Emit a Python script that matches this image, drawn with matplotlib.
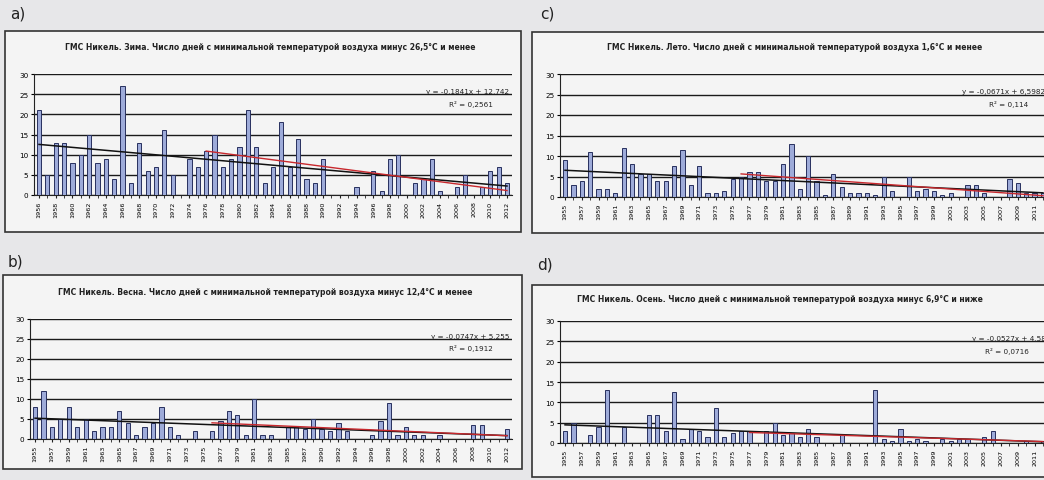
import numpy as np
import matplotlib
matplotlib.use("Agg")
import matplotlib.pyplot as plt
from matplotlib.patches import Rectangle

# Winter (a), 1956-2012
years_a = list(range(1956, 2013))
days_a = [21, 5, 13, 13, 8, 10, 15, 8, 9, 4, 27, 3, 13, 6, 7, 16, 5, 0, 9, 7,
          11, 15, 7, 9, 12, 21, 12, 3, 7, 18, 7, 14, 4, 3, 9, 0, 0, 0, 2, 0,
          6, 1, 9, 10, 0, 3, 4, 9, 1, 0, 2, 5, 0, 2, 6, 7, 3]

# Spring (b), 1955-2012 without 1989
years_b = [y for y in range(1955, 2013) if y != 1989]
days_b = [8, 12, 3, 5, 8, 3, 5, 2, 3, 3, 7, 4, 1, 3, 4, 8, 3, 1, 0, 2,
          0, 2, 4.5, 7, 6, 1, 10, 1, 1, 0, 3, 3, 2.5, 5, 2.5, 2, 4, 2, 0, 0,
          1, 4.5, 9, 1, 3, 1, 1, 0, 1, 0, 0, 0, 3.5, 3.5, 0, 0, 2.5]

# Summer (c), 1955-2012
years_c = list(range(1955, 2013))
days_c = [9, 3, 4, 11, 2, 2, 1, 12, 8, 5.5, 5.5, 4, 4, 7.5, 11.5, 3, 7.5, 1, 1, 1.5,
          4.5, 5, 6, 6, 4, 4, 8, 13, 2, 10, 4, 0.5, 5.5, 2.5, 1, 1, 1, 0.5, 5, 1.5,
          0, 5, 1.5, 2, 1.5, 0.5, 1, 0, 3, 3, 1, 0, 0, 4.5, 3.5, 1, 1, 1]

# Autumn (d), 1955-2012
years_d = list(range(1955, 2013))
days_d = [3, 5, 0, 2, 4, 13, 0, 4, 0, 0, 7, 7, 3, 12.5, 1, 3.5, 3, 1.5, 8.5, 1.5,
          2.5, 3, 3, 0, 3, 5, 2, 2.5, 1.5, 3.5, 1.5, 0, 0, 2, 0, 0, 0, 13, 1, 0.5,
          3.5, 0.5, 1, 0.5, 0, 1, 0.5, 1, 1, 0, 1.5, 3, 0, 0, 0, 0.5, 0, 0.5]

titles = {
    "a": "ГМС Никель. Зима. Число дней с минимальной температурой воздуха минус 26,5°С и менее",
    "b": "ГМС Никель. Весна. Число дней с минимальной температурой воздуха минус 12,4°С и менее",
    "c": "ГМС Никель. Лето. Число дней с минимальной температурой воздуха 1,6°С и менее",
    "d": "ГМС Никель. Осень. Число дней с минимальной температурой воздуха минус 6,9°С и ниже",
}
equations = {
    "a": ("y = -0,1841x + 12,742", "R² = 0,2561"),
    "b": ("y = -0,0747x + 5,255", "R² = 0,1912"),
    "c": ("y = -0,0671x + 6,5982", "R² = 0,114"),
    "d": ("y = -0,0527x + 4,58", "R² = 0,0716"),
}
red_start = {"a": 1976, "b": 1976, "c": 1976, "d": 1977}

BAR_FACE = "#9eabd9"
BAR_EDGE = "#27305e"
PAPER = "#e7e7e9"
PANEL = "#f4f4f4"

fig = plt.figure(figsize=(10.44, 4.81), dpi=100, facecolor=PAPER)


def px(x0, y0, x1, y1):
    # pixel box (top-left origin) -> figure fraction rect
    return [x0 / 1044, 1 - y1 / 481, (x1 - x0) / 1044, (y1 - y0) / 481]


def draw_panel(key, years, days, frame, plot_box, title_x, title_y, label_pos):
    fx0, fy0, fx1, fy1 = frame
    fig.add_artist(Rectangle((fx0 / 1044, 1 - fy1 / 481),
                             (fx1 - fx0) / 1044, (fy1 - fy0) / 481,
                             transform=fig.transFigure, facecolor=PANEL,
                             edgecolor="#333333", lw=1.2, zorder=-5))
    fig.text(label_pos[0] / 1044, 1 - label_pos[1] / 481, key + ")",
             fontsize=11, ha="left", va="center", color="#222222")
    fig.text(title_x / 1044, 1 - title_y / 481, titles[key], fontsize=5.5,
             fontweight="bold", ha="center", va="center", color="#222222")

    ax = fig.add_axes(px(*plot_box))
    ax.set_zorder(2)
    ax.set_facecolor("none")
    n = len(days)
    x = np.arange(n)
    ax.bar(x, days, width=0.5, color=BAR_FACE, edgecolor=BAR_EDGE,
           linewidth=0.7, zorder=3)

    # linear trend over whole series
    t = np.arange(1, n + 1)
    k, b = np.polyfit(t, days, 1)
    ax.plot(x, k * t + b, color="#111111", lw=1.1, zorder=4)

    # trend over the recent part
    i0 = years.index(red_start[key])
    k2, b2 = np.polyfit(t[i0:], days[i0:], 1)
    ax.plot(x[i0:], k2 * t[i0:] + b2, color="#c8282d", lw=1.0, zorder=4)

    ax.set_ylim(0, 30)
    ax.set_yticks(range(0, 31, 5))
    ax.set_xlim(-0.6, n - 0.4)
    ax.yaxis.grid(True, color="#1a1a1a", lw=1.0)
    ax.set_axisbelow(True)
    ax.set_xticks(x[::2])
    ax.set_xticklabels([str(years[i]) for i in range(0, n, 2)],
                       rotation=90, fontsize=4.6)
    ax.set_xticks(x, minor=True)
    ax.tick_params(axis="x", which="both", length=2, pad=2, color="#222222")
    ax.tick_params(axis="y", labelsize=5.2, length=2, pad=2)
    for s in ["top", "right"]:
        ax.spines[s].set_visible(False)
    ax.spines["left"].set_color("#222222")
    ax.spines["bottom"].set_color("#222222")

    eq, r2 = equations[key]
    ax.text(0.995, 0.86, eq, transform=ax.transAxes, ha="right", va="center",
            fontsize=5.2, color="#222222")
    ax.text(0.96, 0.76, r2, transform=ax.transAxes, ha="right", va="center",
            fontsize=5.2, color="#222222")
    return ax


draw_panel("a", years_a, days_a, (5, 32, 521, 233), (34, 75, 512, 196), 270, 47, (10, 14))
draw_panel("c", years_c, days_c, (532, 33, 1060, 234), (560, 75, 1048, 198), 795, 48, (540, 14))
draw_panel("b", years_b, days_b, (3, 276, 522, 470), (30, 320, 512, 440), 265, 293, (8, 262))
draw_panel("d", years_d, days_d, (532, 286, 1060, 478), (560, 322, 1048, 444), 780, 300, (537, 265))

fig.savefig("out.png", dpi=100, facecolor=PAPER)
